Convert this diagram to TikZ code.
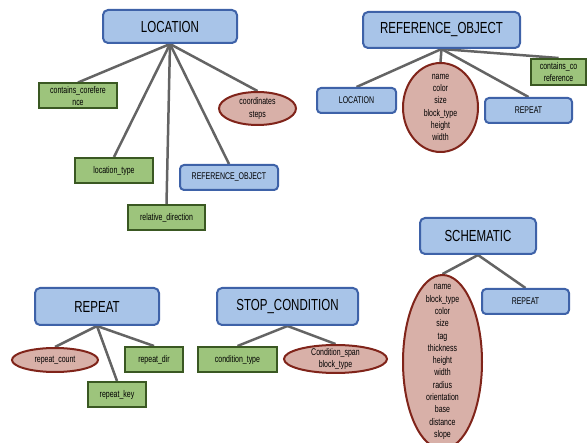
\documentclass[tikz,border=0pt]{standalone}
\usepackage{fontspec}
\setmainfont{Liberation Sans}[FakeStretch=0.72]
\usepackage{tikz}
\usetikzlibrary{shapes.geometric,backgrounds}
\usepackage{xcolor}
\definecolor{boxblue}{RGB}{168,196,232}
\definecolor{lineblue}{RGB}{62,98,168}
\definecolor{boxgreen}{RGB}{157,196,124}
\definecolor{linegreen}{RGB}{58,88,34}
\definecolor{boxpink}{RGB}{216,176,168}
\definecolor{linered}{RGB}{128,36,26}
\definecolor{linkgray}{RGB}{100,100,100}

\begin{document}
\begin{tikzpicture}[x=1pt,y=-1pt,
  head/.style={draw=lineblue,fill=boxblue,line width=2pt,rounded corners=5pt,
    inner sep=0pt,font=\fontsize{16}{19}\selectfont},
  refbox/.style={draw=lineblue,fill=boxblue,line width=2pt,rounded corners=4pt,
    inner sep=0pt,minimum height=25pt,font=\fontsize{9.7}{12.3}\selectfont},
  attr/.style={draw=linegreen,fill=boxgreen,line width=2pt,inner sep=0pt,
    minimum height=25pt,align=center,font=\fontsize{9.7}{12.3}\selectfont},
  multi/.style={ellipse,draw=linered,fill=boxpink,line width=2pt,inner sep=0pt},
  txt/.style={align=center,inner sep=0pt,font=\fontsize{9.7}{12.3}\selectfont},
  link/.style={draw=linkgray,line width=2.5pt}]
  \useasboundingbox (0,0) rectangle (587,443);

  % LOCATION
  \node[head,minimum width=134pt,minimum height=33pt] (loc) at (170,26.5) {LOCATION};
  \node[attr,minimum width=78pt] (loccoref) at (78,96) {contains\_corefere\\nce};
  \node[multi,minimum width=77pt,minimum height=33pt] (loccoord) at (257.5,108.5) {};
  \node[txt] at (loccoord) {coordinates\\steps};
  \node[attr,minimum width=78pt] (loctype) at (114,170.5) {location\_type};
  \node[refbox,minimum width=98pt] (locref) at (229,177.5) {REFERENCE\_OBJECT};
  \node[attr,minimum width=77pt] (locdir) at (166.5,217.5) {relative\_direction};

  % REFERENCE_OBJECT
  \node[head,minimum width=157pt,minimum height=36pt] (ro) at (441.5,30) {REFERENCE\_OBJECT};
  \node[refbox,minimum width=79pt] (roloc) at (356.5,100.5) {LOCATION};
  \node[multi,minimum width=75pt,minimum height=89pt] (ronames) at (440.5,107.5) {};
  \node[txt] at (ronames) {name\\color\\size\\block\_type\\height\\width};
  \node[refbox,minimum width=87pt] (rorep) at (528.5,110.5) {REPEAT};
  \node[attr,minimum width=55pt,minimum height=26pt] (rocoref) at (558.5,72) {contains\_co\\reference};

  % REPEAT
  \node[head,minimum width=124pt,minimum height=37pt] (rep) at (97,306.5) {REPEAT};
  \node[multi,minimum width=86pt,minimum height=24pt] (repcount) at (55,360) {};
  \node[txt] at (repcount) {repeat\_count};
  \node[attr,minimum width=58pt] (repdir) at (154,359.5) {repeat\_dir};
  \node[attr,minimum width=58pt] (repkey) at (117,394.5) {repeat\_key};

  % STOP_CONDITION
  \node[head,minimum width=141pt,minimum height=37pt] (stop) at (287.5,306.5) {STOP\_CONDITION};
  \node[attr,minimum width=79pt] (stoptype) at (237.5,359.5) {condition\_type};
  \node[multi,minimum width=103pt,minimum height=28pt] (stopspan) at (335.5,359) {};
  \node[txt] at (stopspan) {Condition\_span\\block\_type};

  % SCHEMATIC
  \node[head,minimum width=116pt,minimum height=36pt] (sch) at (478,236) {SCHEMATIC};
  \node[multi,minimum width=79pt,minimum height=174pt] (schnames) at (442.5,362) {};
  \node[txt] at (schnames) {name\\block\_type\\color\\size\\tag\\thickness\\height\\width\\radius\\orientation\\base\\distance\\slope};
  \node[refbox,minimum width=87pt] (schrep) at (525.5,301.5) {REPEAT};

  \begin{scope}[on background layer]
    \foreach \c in {loccoref,loccoord,loctype,locref,locdir}
      \draw[link] (loc.south) -- (\c.north);
    \foreach \c in {roloc,ronames,rorep,rocoref}
      \draw[link] (ro.south) -- (\c.north);
    \foreach \c in {repcount,repdir,repkey}
      \draw[link] (rep.south) -- (\c.north);
    \foreach \c in {stoptype,stopspan}
      \draw[link] (stop.south) -- (\c.north);
    \foreach \c in {schnames,schrep}
      \draw[link] (sch.south) -- (\c.north);
  \end{scope}
\end{tikzpicture}
\end{document}
